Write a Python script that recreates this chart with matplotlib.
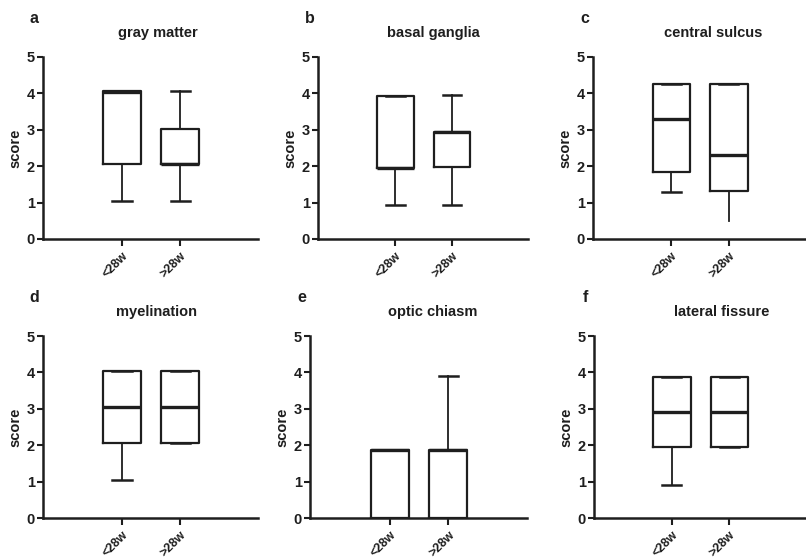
import matplotlib.pyplot as plt

plt.rcParams['font.family'] = ['Liberation Sans', 'DejaVu Sans']
plt.rcParams['font.weight'] = 'bold'

groups = ['<28w', '>28w']
letters = ['a', 'b', 'c', 'd', 'e', 'f']
titles = ['gray matter', 'basal ganglia', 'central sulcus',
          'myelination', 'optic chiasm', 'lateral fissure']

# per panel, per group: (whislo, q1, median, q3, whishi)
box_stats = [
    [(1.05, 2.05, 4.02, 4.05, 4.05), (1.05, 2.05, 2.05, 3.02, 4.05)],
    [(0.94, 1.95, 1.95, 3.93, 3.93), (0.94, 1.98, 2.93, 2.93, 3.96)],
    [(1.30, 1.83, 3.30, 4.25, 4.25), (0.48, 1.33, 2.30, 4.25, 4.25)],
    [(1.05, 2.06, 3.05, 4.05, 4.05), (2.06, 2.06, 3.05, 4.05, 4.05)],
    [(0.0, 0.0, 1.88, 1.88, 1.88), (0.0, 0.0, 1.88, 1.88, 3.90)],
    [(0.92, 1.95, 2.92, 3.88, 3.88), (1.95, 1.95, 2.92, 3.88, 3.88)],
]
# caps that are not drawn in the original (panel index, cap index)
hidden_caps = [(2, 2)]

yticks = [0, 1, 2, 3, 4, 5]

ax_lefts = [43, 318, 593, 43, 310, 594]
ax_rights = [258, 528, 806, 258, 527, 806]
title_x = [0.535, 0.548, 0.563, 0.53, 0.567, 0.60]
W, H = 806, 560
row_bottom = [239, 518]
row_top = [56.7, 336]

fig = plt.figure(figsize=(W / 100, H / 100), dpi=100)
ink = '#1e1e1e'

for i in range(6):
    r = i // 3
    left = ax_lefts[i] / W
    width = (ax_rights[i] - ax_lefts[i]) / W
    bottom = 1 - row_bottom[r] / H
    height = (row_bottom[r] - row_top[r]) / H
    ax = fig.add_axes([left, bottom, width, height])

    stats = []
    for g, s in zip(groups, box_stats[i]):
        lo, q1, med, q3, hi = s
        stats.append(dict(whislo=lo, q1=q1, med=med, q3=q3, whishi=hi,
                          fliers=[], label=g))
    res = ax.bxp(stats, positions=[1, 2], widths=0.65, capwidths=0.33,
                 showfliers=False,
                 boxprops=dict(color=ink, linewidth=1.6),
                 whiskerprops=dict(color=ink, linewidth=1.3),
                 capprops=dict(color=ink, linewidth=1.8),
                 medianprops=dict(color=ink, linewidth=2.4))
    for pi, ci in hidden_caps:
        if pi == i:
            res['caps'][ci].set_visible(False)

    ax.set_xlim(-0.36, 3.34)
    ax.set_ylim(0, 5)
    ax.set_yticks(yticks)
    ax.set_xticks([1, 2])
    ax.set_xticklabels(groups, rotation=45, ha='right', rotation_mode='anchor',
                       fontsize=9, fontweight='bold', color=ink)
    for lab in ax.get_yticklabels():
        lab.set_fontsize(10.5)
        lab.set_fontweight('bold')
        lab.set_color(ink)
    ax.tick_params(axis='y', length=4, width=1.5, color=ink, pad=2)
    ax.tick_params(axis='x', length=5, width=1.5, color=ink, pad=3)
    for side in ['top', 'right']:
        ax.spines[side].set_visible(False)
    for side in ['left', 'bottom']:
        ax.spines[side].set_linewidth(1.8)
        ax.spines[side].set_color(ink)
    ax.set_ylabel('score', fontsize=10.5, fontweight='bold', color=ink, labelpad=3)
    ax.text(title_x[i], 1.13, titles[i], transform=ax.transAxes, ha='center',
            va='center', fontsize=10.5, fontweight='bold', color=ink)
    ax.text(-0.04, 1.21, letters[i], transform=ax.transAxes, ha='center',
            va='center', fontsize=11.5, fontweight='bold', color=ink)

fig.savefig('out.png', dpi=100)
